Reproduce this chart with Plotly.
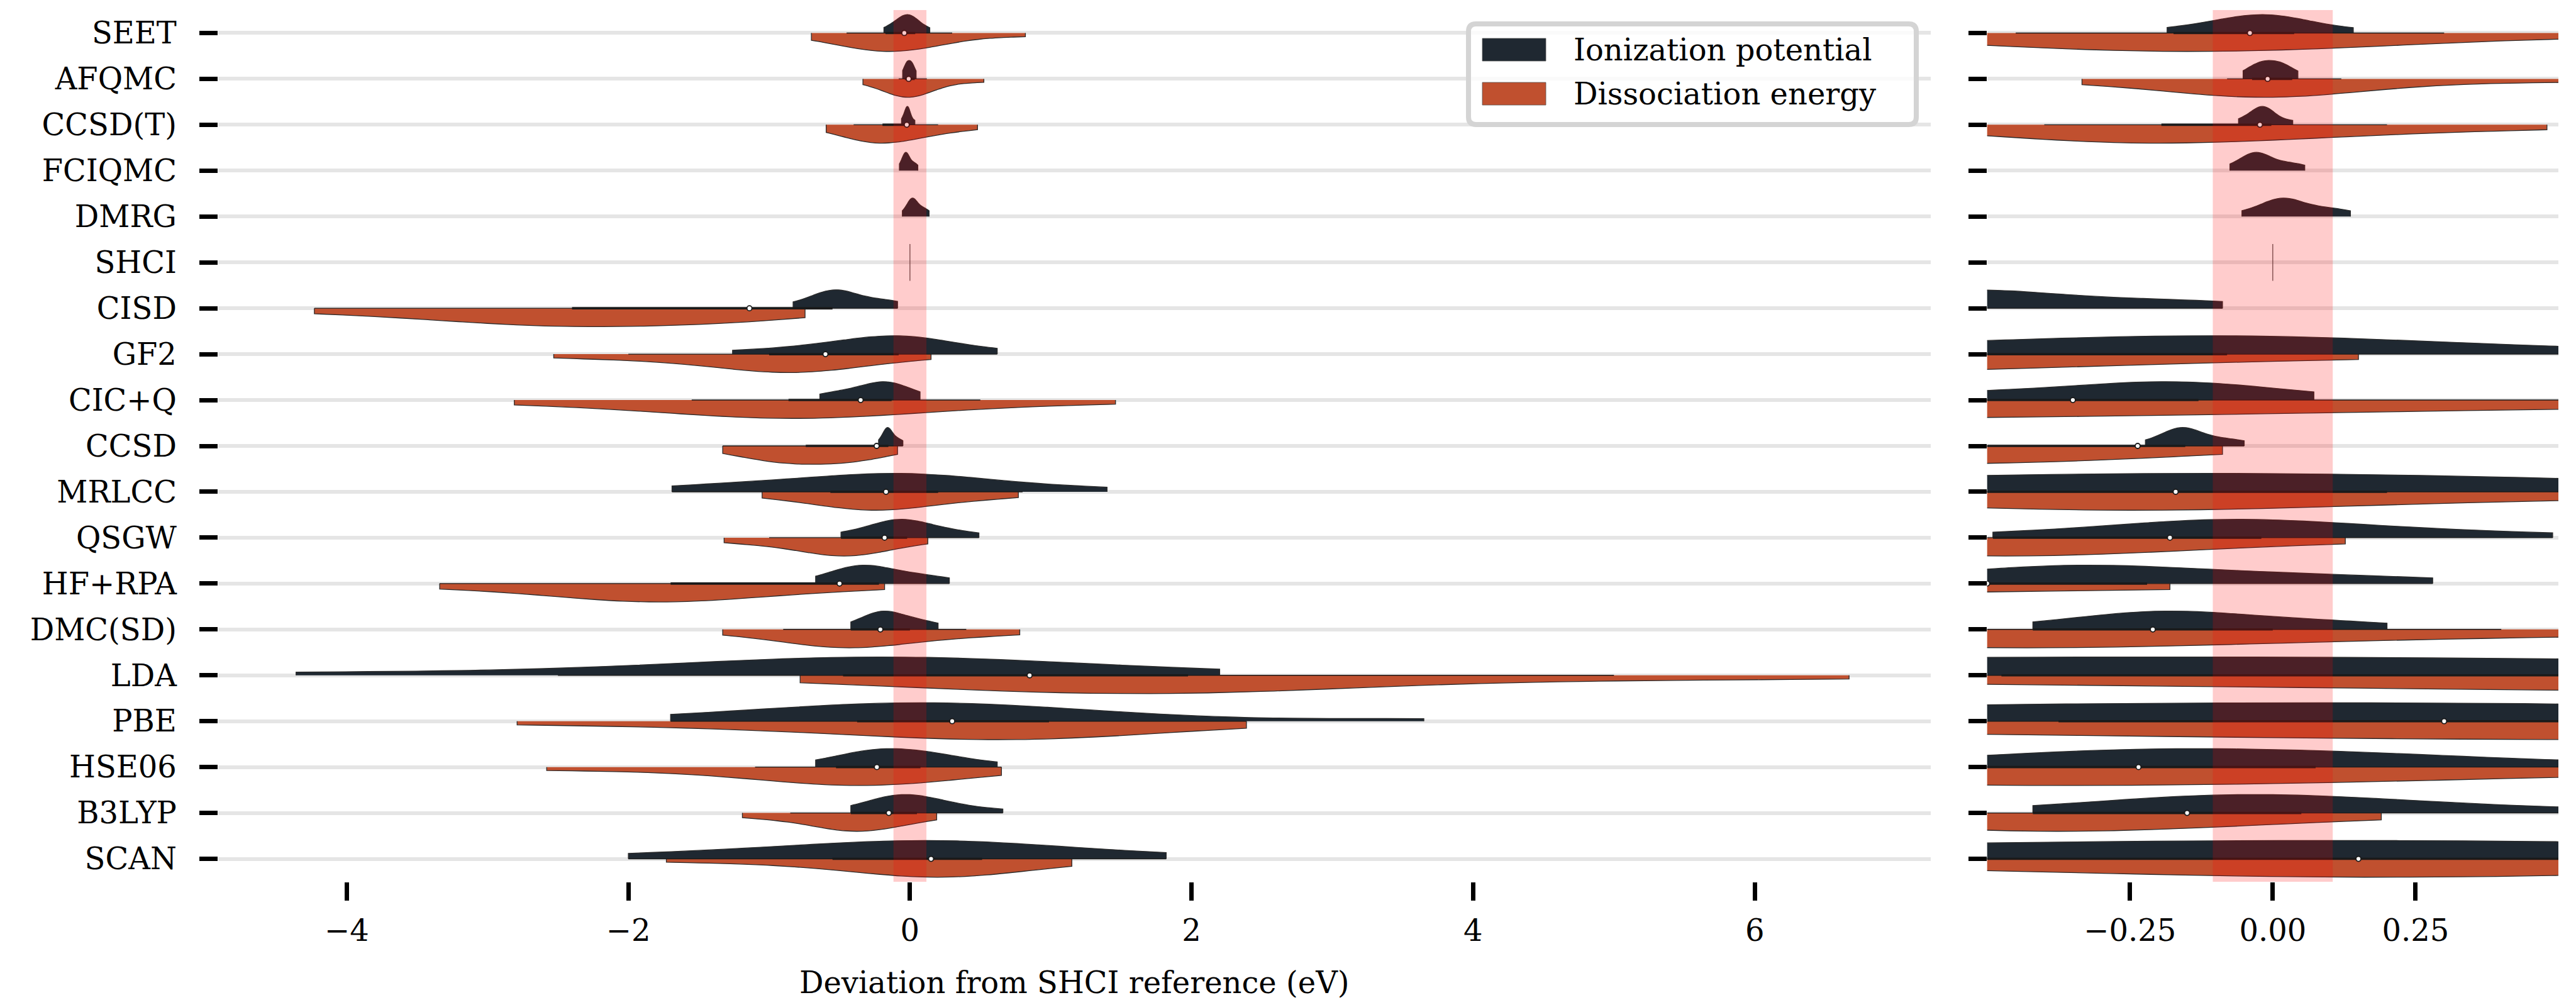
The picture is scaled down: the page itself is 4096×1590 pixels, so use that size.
import numpy as np
import plotly.graph_objects as go

# ---------------- data (deviations from SHCI reference, eV) ----------------
methods = ["SEET", "AFQMC", "CCSD(T)", "FCIQMC", "DMRG", "SHCI", "CISD", "GF2", "CIC+Q",
           "CCSD", "MRLCC", "QSGW", "HF+RPA", "DMC(SD)", "LDA", "PBE", "HSE06", "B3LYP", "SCAN"]

ip_seet = [-0.185, -0.11, -0.08, -0.05, -0.03, -0.01, 0.01, 0.03, 0.06, 0.141]
de_seet = [-0.70, -0.45, -0.30, -0.22, -0.17, -0.10, 0.02, 0.15, 0.30, 0.82]
ip_afqmc = [-0.052, -0.025, -0.021, -0.018, 0.008, 0.012, 0.016, 0.044]
de_afqmc = [-0.334, -0.15, -0.08, -0.04, -0.02, 0.0, 0.04, 0.12, 0.25, 0.525]
ip_ccsdt = [-0.06, -0.035, -0.025, -0.02, -0.015, -0.01, 0.0, 0.035]
de_ccsdt = [-0.595, -0.40, -0.30, -0.25, -0.21, -0.15, -0.02, 0.08, 0.20, 0.48]
ip_fciqmc = [-0.075, -0.045, -0.035, -0.03, -0.027, -0.024, -0.018, 0.015, 0.03, 0.056]
de_fciqmc = []
ip_dmrg = [-0.054, -0.005, 0.01, 0.015, 0.02, 0.025, 0.035, 0.085, 0.095, 0.136]
de_dmrg = []
ip_shci = [0.0]
de_shci = [0.0]
ip_cisd = [-0.83, -0.62, -0.57, -0.55, -0.52, -0.47, -0.35, -0.20, -0.088]
de_cisd = [-4.23, -3.5, -3.1, -2.8, -2.6, -2.4, -2.2, -1.9, -1.6, -1.35, -1.14, -0.745]
ip_gf2 = [-1.26, -0.80, -0.60, -0.45, -0.30, -0.15, -0.08, -0.05, 0.0, 0.10, 0.30, 0.62]
de_gf2 = [-2.53, -2.0, -1.6, -1.35, -1.15, -1.0, -0.90, -0.82, -0.75, -0.68, -0.55, -0.30, 0.15]
ip_cicq = [-0.64, -0.50, -0.40, -0.30, -0.23, -0.19, -0.16, -0.12, -0.05, 0.072]
de_cicq = [-2.81, -2.0, -1.55, -1.25, -1.05, -0.90, -0.75, -0.55, -0.30, 0.05, 0.50, 1.46]
ip_ccsd = [-0.223, -0.18, -0.168, -0.162, -0.157, -0.152, -0.145, -0.11, -0.085, -0.05]
de_ccsd = [-1.33, -1.15, -1.0, -0.90, -0.85, -0.78, -0.62, -0.53, -0.47, -0.38, -0.25, -0.088]
ip_mrlcc = [-1.69, -1.25, -0.95, -0.70, -0.45, -0.25, -0.10, -0.02, 0.05, 0.20, 0.45, 0.80, 1.40]
de_mrlcc = [-1.05, -0.72, -0.52, -0.38, -0.30, -0.22, -0.12, 0.0, 0.20, 0.45, 0.77]
ip_qsgw = [-0.49, -0.30, -0.18, -0.12, -0.09, -0.06, -0.02, 0.08, 0.17, 0.27, 0.49]
de_qsgw = [-1.32, -1.0, -0.78, -0.62, -0.52, -0.46, -0.40, -0.32, -0.18, 0.127]
ip_hfrpa = [-0.67, -0.50, -0.42, -0.37, -0.34, -0.30, -0.22, -0.12, -0.02, 0.10, 0.28]
de_hfrpa = [-3.34, -2.6, -2.25, -2.0, -1.85, -1.7, -1.5, -1.2, -0.80, -0.18]
ip_dmc = [-0.42, -0.30, -0.24, -0.21, -0.18, -0.14, -0.08, 0.0, 0.08, 0.20]
de_dmc = [-1.33, -0.90, -0.70, -0.56, -0.47, -0.40, -0.30, -0.15, 0.10, 0.40, 0.78]
ip_lda = [-4.36, -2.5, -1.6, -1.0, -0.70, -0.40, -0.20, 0.0, 0.20, 0.90, 1.0, 2.2]
de_lda = [-0.78, 0.20, 0.80, 1.2, 1.5, 1.7, 1.9, 2.2, 2.7, 3.5, 5.0, 6.67]
ip_pbe = [-1.70, -1.0, -0.60, -0.30, -0.10, 0.05, 0.20, 0.40, 0.70, 1.1, 1.6, 3.65]
de_pbe = [-2.79, -1.5, -0.80, -0.30, 0.10, 0.40, 0.60, 0.80, 0.95, 1.2, 1.6, 2.39]
ip_hse06 = [-0.67, -0.45, -0.32, -0.25, -0.20, -0.12, 0.0, 0.10, 0.20, 0.30, 0.62]
de_hse06 = [-2.58, -1.6, -1.1, -0.80, -0.55, -0.42, -0.32, -0.22, -0.05, 0.25, 0.65]
ip_b3lyp = [-0.42, -0.25, -0.15, -0.10, -0.06, -0.02, 0.05, 0.15, 0.25, 0.35, 0.66]
de_b3lyp = [-1.19, -0.85, -0.65, -0.50, -0.42, -0.38, -0.30, -0.20, -0.05, 0.19]
ip_scan = [-2.0, -1.3, -0.85, -0.55, -0.30, 0.0, 0.18, 0.30, 0.50, 0.80, 1.2, 1.82]
de_scan = [-1.73, -0.95, -0.55, -0.25, -0.05, 0.12, 0.18, 0.25, 0.35, 0.55, 0.80, 1.15]

ip_data = [ip_seet, ip_afqmc, ip_ccsdt, ip_fciqmc, ip_dmrg, ip_shci, ip_cisd, ip_gf2, ip_cicq,
           ip_ccsd, ip_mrlcc, ip_qsgw, ip_hfrpa, ip_dmc, ip_lda, ip_pbe, ip_hse06, ip_b3lyp, ip_scan]
de_data = [de_seet, de_afqmc, de_ccsdt, de_fciqmc, de_dmrg, de_shci, de_cisd, de_gf2, de_cicq,
           de_ccsd, de_mrlcc, de_qsgw, de_hfrpa, de_dmc, de_lda, de_pbe, de_hse06, de_b3lyp, de_scan]

series_names = ["Ionization potential", "Dissociation energy"]
left_ticks = [-4, -2, 0, 2, 4, 6]
right_ticks = [-0.25, 0.0, 0.25]
left_range = [-4.915, 7.25]
right_range = [-0.5, 0.5]
accuracy_band_left = 0.117
accuracy_band_right = 0.105

# ---------------- style ----------------
W, H = 4096, 1590
C_IP = "#1f2831"
C_DE = "#c0502f"
EDGE = "#2b2b2b"
FONT = "DejaVu Serif"
FS = 48
VW = 0.8  # violin full width in row units


def px_x(p):
    return p / W


def px_y(p):
    return 1 - p / H


def scott_bw(vals):
    a = np.asarray(vals, dtype=float)
    return float(np.std(a, ddof=1) * len(a) ** (-0.2))


fig = go.Figure()

panels = [("x", "y"), ("x2", "y2")]

for xa, ya in panels:
    for i, m in enumerate(methods):
        ip = ip_data[i]
        de = de_data[i]
        if len(set(ip)) <= 1 and len(set(de)) <= 1:
            # single-valued reference: a thin line
            v = ip[0]
            fig.add_trace(go.Scatter(x=[v, v], y=[i - VW / 2, i + VW / 2], mode="lines",
                                     line=dict(color="#444444", width=1.2),
                                     xaxis=xa, yaxis=ya, showlegend=False, hoverinfo="skip"))
            continue
        for vals, side, col, nm in [(ip, "negative", C_IP, series_names[0]),
                                    (de, "positive", C_DE, series_names[1])]:
            if len(vals) == 0:
                continue
            fig.add_trace(go.Violin(
                x=vals, y0=i, orientation="h", side=side, width=VW,
                scalemode="width", spanmode="hard", points=False, bandwidth=scott_bw(vals),
                box_visible=False, meanline_visible=False,
                fillcolor=col, opacity=1, line=dict(color=EDGE, width=1.3),
                name=nm, showlegend=False, hoverinfo="skip",
                xaxis=xa, yaxis=ya))
    # inner box (combined data of both properties)
    wx, wy, bx, by, mx, my = [], [], [], [], [], []
    for i, m in enumerate(methods):
        ip = ip_data[i]
        de = de_data[i]
        if len(de) == 0 or len(set(ip)) <= 1:
            continue
        d = np.asarray(ip + de, dtype=float)
        q25, q50, q75 = np.percentile(d, [25, 50, 75])
        lim = 1.5 * (q75 - q25)
        h1 = d[d >= q25 - lim].min()
        h2 = d[d <= q75 + lim].max()
        wx += [h1, h2, None]
        wy += [i, i, None]
        bx += [q25, q75, None]
        by += [i, i, None]
        mx.append(q50)
        my.append(i)
    fig.add_trace(go.Scatter(x=wx, y=wy, mode="lines", line=dict(color="#1a1a1a", width=1.4),
                             xaxis=xa, yaxis=ya, showlegend=False, hoverinfo="skip"))
    fig.add_trace(go.Scatter(x=bx, y=by, mode="lines", line=dict(color="#1a1a1a", width=3.6),
                             xaxis=xa, yaxis=ya, showlegend=False, hoverinfo="skip"))
    fig.add_trace(go.Scatter(x=mx, y=my, mode="markers",
                             marker=dict(color="white", size=8, line=dict(color="#1a1a1a", width=1.8)),
                             xaxis=xa, yaxis=ya, showlegend=False, hoverinfo="skip"))

# reference accuracy band
fig.add_shape(type="rect", xref="x", yref="y domain", x0=-accuracy_band_left, x1=accuracy_band_left,
              y0=0, y1=1, fillcolor="rgba(255,0,0,0.2)", line=dict(width=0), layer="above")
fig.add_shape(type="rect", xref="x2", yref="y2 domain", x0=-accuracy_band_right, x1=accuracy_band_right,
              y0=0, y1=1, fillcolor="rgba(255,0,0,0.2)", line=dict(width=0), layer="above")


# ---------------- legend (drawn box) ----------------
def rrect_path(x0, y0, x1, y1, r):
    X = px_x
    Y = px_y
    return (f"M {X(x0 + r)},{Y(y0)} L {X(x1 - r)},{Y(y0)} Q {X(x1)},{Y(y0)} {X(x1)},{Y(y0 + r)} "
            f"L {X(x1)},{Y(y1 - r)} Q {X(x1)},{Y(y1)} {X(x1 - r)},{Y(y1)} "
            f"L {X(x0 + r)},{Y(y1)} Q {X(x0)},{Y(y1)} {X(x0)},{Y(y1 - r)} "
            f"L {X(x0)},{Y(y0 + r)} Q {X(x0)},{Y(y0)} {X(x0 + r)},{Y(y0)} Z")


fig.add_shape(type="path", xref="paper", yref="paper", path=rrect_path(2335, 38, 3047, 198, 12),
              fillcolor="rgba(255,255,255,0.8)", line=dict(color="#d4d4d4", width=8), layer="above")
for k, (col, yc) in enumerate([(C_IP, 79), (C_DE, 149)]):
    fig.add_shape(type="rect", xref="paper", yref="paper",
                  x0=px_x(2357), x1=px_x(2458), y0=px_y(yc - 18), y1=px_y(yc + 18),
                  fillcolor=col, line=dict(color="#555555", width=0.8), layer="above")
    fig.add_annotation(text=series_names[k], xref="paper", yref="paper", x=px_x(2500), y=px_y(yc),
                       xanchor="left", yanchor="middle", showarrow=False,
                       font=dict(family=FONT, size=FS, color="black"))

axis_common = dict(ticks="outside", ticklen=29, tickwidth=7, tickcolor="black",
                   showline=False, zeroline=False,
                   tickfont=dict(family=FONT, size=FS, color="black"))

fig.update_layout(
    width=W, height=H, margin=dict(l=0, r=0, t=0, b=0),
    paper_bgcolor="white", plot_bgcolor="white",
    violinmode="overlay", violingap=0, violingroupgap=0, showlegend=False,
    font=dict(family=FONT, size=FS, color="black"),
    xaxis=dict(domain=[px_x(346.5), px_x(3070)], range=left_range, tickvals=left_ticks,
               showgrid=False, anchor="y", ticklabelstandoff=6,
               title=dict(text="Deviation from SHCI reference (eV)", standoff=44,
                          font=dict(family=FONT, size=FS, color="black")),
               **axis_common),
    xaxis2=dict(domain=[px_x(3159.7), px_x(4068)], range=right_range, tickvals=right_ticks,
                tickformat=".2f", showgrid=False, anchor="y2", ticklabelstandoff=6, **axis_common),
    yaxis=dict(domain=[px_y(1402), px_y(16)], range=[18.5, -0.5], tickvals=list(range(len(methods))),
               ticktext=methods, showgrid=True, gridcolor="#e5e5e5", gridwidth=6.4, anchor="x",
               ticklabelstandoff=26, **axis_common),
    yaxis2=dict(domain=[px_y(1402), px_y(16)], range=[18.5, -0.5], tickvals=list(range(len(methods))),
                showticklabels=False, showgrid=True, gridcolor="#e5e5e5", gridwidth=6.4, anchor="x2",
                **axis_common),
)

fig.write_html("out.html")
